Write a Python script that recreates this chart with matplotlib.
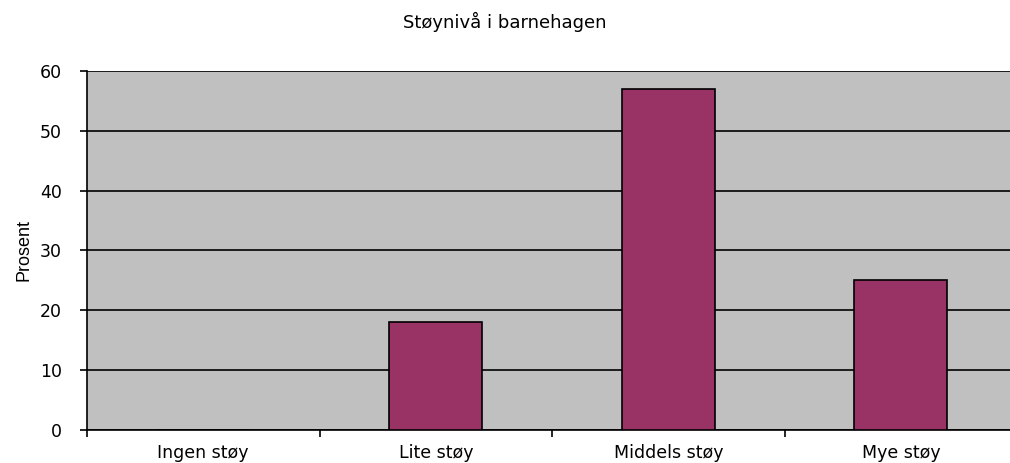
import numpy as np
import matplotlib.pyplot as plt

# Støynivå i barnehagen - andel svar (prosent)
kategorier = ['Ingen støy', 'Lite støy', 'Middels støy', 'Mye støy']
prosent = [0, 18, 57, 25]
y_ticks = [0, 10, 20, 30, 40, 50, 60]

plt.rcParams['font.family'] = 'DejaVu Sans'

fig = plt.figure(figsize=(10.1, 4.63), dpi=100)
ax = fig.add_axes([0.0861, 0.0713, 0.921, 0.7754])
ax.set_facecolor('#c0c0c0')

x = np.arange(len(kategorier))
ax.bar(x, prosent, width=0.4, color='#993366', edgecolor='black', linewidth=1.2, zorder=3)

ax.set_xlim(-0.5, len(kategorier) - 0.5)
ax.set_ylim(0, 60)
ax.set_yticks(y_ticks)
ax.yaxis.grid(True, color='black', linewidth=1.2, zorder=1)
ax.set_axisbelow(True)

# kategorinavn midt i feltet, tick-streker mellom kategoriene
ax.set_xticks(x)
ax.set_xticklabels(kategorier, fontsize=12.5)
ax.tick_params(axis='x', which='major', length=0, pad=10)
ax.set_xticks(np.arange(-0.5, len(kategorier)), minor=True)
ax.tick_params(axis='x', which='minor', length=5, width=1.2, direction='out')
ax.tick_params(axis='y', labelsize=12.5, length=5, width=1.2, pad=13)

for side in ['top', 'right']:
    ax.spines[side].set_visible(False)
ax.spines['left'].set_linewidth(1.2)
ax.spines['bottom'].set_linewidth(1.2)

ax.set_ylabel('Prosent', fontsize=13, family='Liberation Sans', labelpad=5)
fig.text(0.5, 0.952, 'Støynivå i barnehagen', ha='center', va='center', fontsize=13)

fig.savefig('out.png', dpi=100)
